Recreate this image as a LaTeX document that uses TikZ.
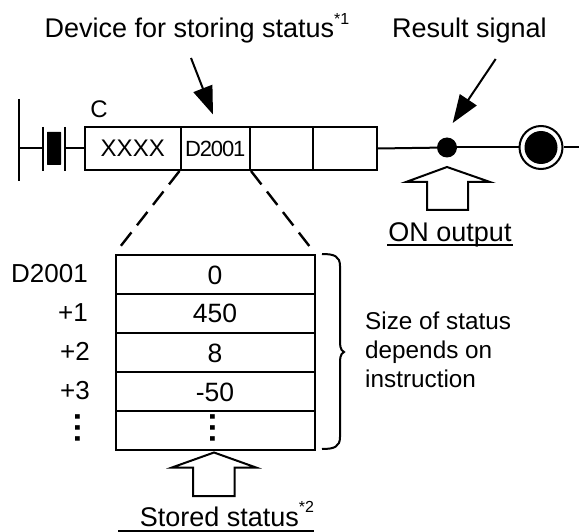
\documentclass[tikz,border=0pt]{standalone}
\usepackage{fontspec}
\setmainfont{Liberation Sans}
\usetikzlibrary{arrows.meta}
\newcommand{\supmark}[1]{\raisebox{13.5pt}{\fontsize{16}{18}\selectfont #1}}
\tikzset{
  x=1pt,y=-1pt,
  lw/.style={line width=2pt,line cap=butt},
  txt/.style={font=\fontsize{27}{31}\selectfont,inner sep=0pt,text=black},
  lbl/.style={txt,anchor=base},
  rlbl/.style={txt,anchor=base east,font=\fontsize{26}{31}\selectfont},
  cellbox/.style={draw,lw,minimum height=43pt,inner sep=0pt,anchor=north west,text height=17pt,text depth=0pt,text=black},
  rowbox/.style={draw,lw,minimum width=199pt,minimum height=39pt,inner sep=0pt,anchor=north west,font=\fontsize{26.5}{31}\selectfont,text height=19pt,text depth=0pt,text=black},
  blockarrow/.style={draw,lw,fill=white,line join=miter},
  pointer/.style={lw,-{Triangle[length=28pt,width=20pt]}},
  vdots/.style={font=\fontsize{32}{36}\selectfont\bfseries\addfontfeatures{LetterSpace=7},inner sep=0pt,anchor=base,rotate=-90},
  sidetxt/.style={txt,anchor=base west,font=\fontsize{24.3}{29}\selectfont},
  dashline/.style={line width=2.4pt,dash pattern=on 17pt off 9pt,shorten >=7pt}
}
\begin{document}
\begin{tikzpicture}
\useasboundingbox (0,0) rectangle (579,532);
% labels
\node[lbl] (devlabel) at (197,38) {Device for storing status\supmark{*1}};
\node[lbl] (reslabel) at (469.5,38) {Result signal};
\node[lbl,font=\fontsize{24}{28}\selectfont] (clabel) at (99,118) {C};
% ladder
\coordinate (railtop) at (19,99);
\coordinate (railbot) at (19,181);
\coordinate (railmid) at (19,148);
\draw[lw] (railtop) -- (railbot);
\node[fill=black,minimum width=14pt,minimum height=33pt,inner sep=0pt,rounded corners=0.5pt] (contact) at (54,148.5) {};
\coordinate (barLm) at (43,148); \coordinate (barRm) at (64.5,148);
\draw[lw] (43,127) -- (43,171);
\draw[lw] (64.5,127) -- (64.5,171);
\node[cellbox,minimum width=95.5pt,font=\fontsize{24}{28}\selectfont] (c1) at (84,126) {XXXX};
\node[cellbox,minimum width=69.5pt,font=\fontsize{22}{26}\selectfont\addfontfeatures{LetterSpace=-5}] (c2) at (179.5,126) {D2001};
\node[cellbox,minimum width=63pt] (c3) at (249,126) {};
\node[cellbox,minimum width=63.5pt] (c4) at (312,126) {};
\draw[lw] (railmid) -- (barLm);
\draw[lw] (barRm) -- (c1.west |- barRm);
\node[circle,fill=black,minimum size=20pt,inner sep=0pt] (dot) at (447,147.5) {};
\node[circle,draw,lw,fill=white,minimum size=43pt,inner sep=0pt] (coil) at (541,147.5) {};
\node[circle,fill=black,minimum size=33pt,inner sep=0pt] (coilin) at (541,147.5) {};
\coordinate (rend) at (579,147.5);
\draw[lw] (c4.east) -- (dot);
\draw[lw] (dot) -- (coil);
\draw[lw] (coil) -- (rend);
% pointers
\coordinate (p1s) at (191,58); \coordinate (p1e) at (213,114.5);
\coordinate (p2s) at (495.7,59); \coordinate (p2e) at (452.7,123);
\draw[pointer] (p1s) -- (p1e);
\draw[pointer] (p2s) -- (p2e);
% block arrow ON
\draw[blockarrow] (447,167) -- (406,182) -- (427,182) -- (427,210) -- (468,210) -- (468,182) -- (490,182) -- cycle;
\node[lbl] (onlabel) at (450,241) {ON output};
\coordinate (onl) at (387,245); \coordinate (onr) at (513,245);
\draw[lw] (onl) -- (onr);
% table
\node[rowbox] (r0) at (114.5,254) {0};
\node[rowbox] (r1) at (114.5,293) {450};
\node[rowbox] (r2) at (114.5,332) {8};
\node[rowbox] (r3) at (114.5,371) {-50};
\node[rowbox] (r4) at (114.5,410) {};
\node[vdots] (d1) at (210.5,428) {...};
\draw[dashline] (c2.south west) -- (r0.north west);
\draw[dashline] (c2.south east) -- (r0.north east);
% offsets
\node[rlbl] (l0) at (88,282) {D2001};
\node[rlbl] (l1) at (88,321) {+1};
\node[rlbl] (l2) at (90,360) {+2};
\node[rlbl] (l3) at (90,399) {+3};
\node[vdots] (d2) at (75.5,428) {...};
% brace
\draw[lw] (322,254) .. controls (334,254) and (340,256) .. (340,266) -- (340,336) .. controls (340,346) and (340,350) .. (344,352) .. controls (340,354) and (340,358) .. (340,368) -- (340,437) .. controls (340,447) and (334,449) .. (322,449);
\node[sidetxt] (s1) at (365,329) {Size of status};
\node[sidetxt] (s2) at (365,358) {depends on};
\node[sidetxt] (s3) at (365,387) {instruction};
% block arrow status
\draw[blockarrow] (214,452.5) -- (172,467.5) -- (193,467.5) -- (193,496) -- (234.5,496) -- (234.5,467.5) -- (256,467.5) -- cycle;
\node[lbl] (stlabel) at (227,526) {Stored status\supmark{*2}};
\coordinate (stl) at (118,530.5); \coordinate (str) at (314,530.5);
\draw[lw] (stl) -- (str);
\end{tikzpicture}
\end{document}
